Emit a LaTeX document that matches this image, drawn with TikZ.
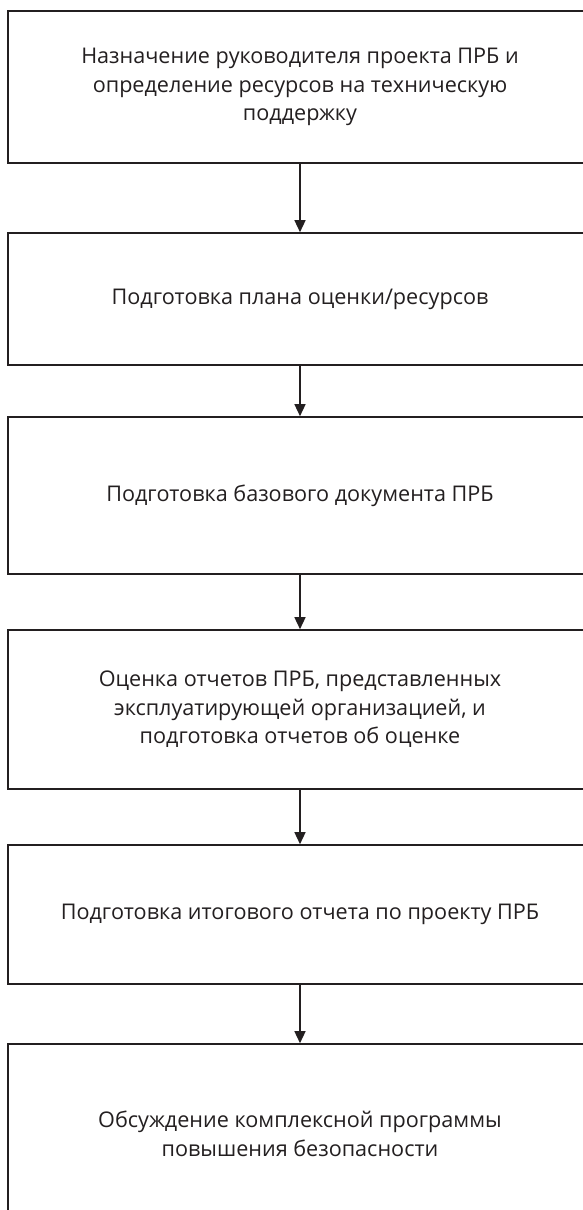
\documentclass[tikz,border=0pt]{standalone}
\usepackage{fontspec}
\setmainfont{Open Sans}
\usepackage{tikz}
\usetikzlibrary{arrows.meta, positioning}
\definecolor{inkgray}{HTML}{231F20}
\tikzset{
  proc/.style={rectangle, draw=inkgray, line width=1.6pt, fill=white, text=inkgray,
    font=\fontsize{21.6}{28.5}\selectfont, minimum width=584pt, align=center, inner sep=0pt},
  ar/.style={-{Triangle[width=11pt,length=12pt]}, draw=inkgray, line width=1.4pt},
}

\begin{document}
\begin{tikzpicture}[x=1pt,y=1pt]
\useasboundingbox (0,0) rectangle (583,-1210);

\node[proc, minimum height=152pt] (S1) at (300,-87)    {Назначение руководителя проекта ПРБ и\\определение ресурсов на техническую\\поддержку};
\node[proc, minimum height=132pt] (S2) at (300,-299)   {Подготовка плана оценки/ресурсов};
\node[proc, minimum height=157pt] (S3) at (300,-495.5) {Подготовка базового документа ПРБ};
\node[proc, minimum height=159pt] (S4) at (300,-709.5) {Оценка отчетов ПРБ, представленных\\эксплуатирующей организацией, и\\подготовка отчетов об оценке};
\node[proc, minimum height=139pt] (S5) at (300,-914.5) {Подготовка итогового отчета по проекту ПРБ};
\node[proc, minimum height=180pt] (S6) at (300,-1134)  {Обсуждение комплексной программы\\повышения безопасности};

\draw[ar] (S1.south) -- (S2.north);
\draw[ar] (S2.south) -- (S3.north);
\draw[ar] (S3.south) -- (S4.north);
\draw[ar] (S4.south) -- (S5.north);
\draw[ar] (S5.south) -- (S6.north);

\end{tikzpicture}
\end{document}
